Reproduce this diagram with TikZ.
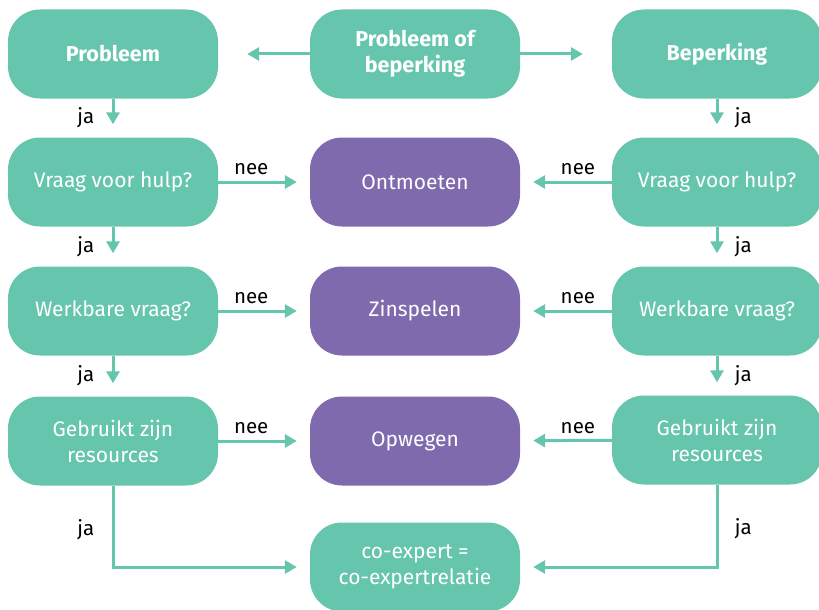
\documentclass[tikz,border=0pt]{standalone}
\usepackage{fontspec}
\setmainfont{Fira Sans}
\usetikzlibrary{arrows.meta}
\definecolor{mint}{HTML}{66C5AD}
\definecolor{paars}{HTML}{7F6AAE}

\begin{document}
\begin{tikzpicture}[x=1pt,y=-1pt,
  box/.style={rectangle,rounded corners=32pt,fill=mint,text=white,minimum width=210pt,
    minimum height=89pt,align=center,font=\fontsize{21}{26}\selectfont},
  paarsbox/.style={box,fill=paars},
  kop/.style={box,font=\fontsize{21.5}{26}\selectfont\bfseries},
  pijl/.style={mint,line width=3pt,-{Triangle[length=12pt,width=13pt]}},
  lbl/.style={font=\fontsize{20.5}{25}\selectfont,text=black}]
\useasboundingbox (0,0) rectangle (819,610);

\node[kop] (probleem) at (113,54) {Probleem};
\node[kop] (pofb) at (415,54) {Probleem of\\beperking};
\node[kop] (beperking) at (717,54) {Beperking};

\node[box] (hulpL) at (113,182) {Vraag voor hulp?};
\node[paarsbox] (ontmoeten) at (415,182) {Ontmoeten};
\node[box] (hulpR) at (717,182) {Vraag voor hulp?};

\node[box] (vraagL) at (113,311) {Werkbare vraag?};
\node[paarsbox] (zinspelen) at (415,311) {Zinspelen};
\node[box] (vraagR) at (717,311) {Werkbare vraag?};

\node[box] (resL) at (113,441) {Gebruikt zijn\\resources};
\node[paarsbox] (opwegen) at (415,441) {Opwegen};
\node[box] (resR) at (717,440) {Gebruikt zijn\\resources};

\node[box] (coexpert) at (415,567) {co-expert =\\co-expertrelatie};

% splitsing bovenaan
\draw[pijl,shorten >=29pt] (pofb) -- (probleem);
\draw[pijl,shorten >=29pt] (pofb) -- (beperking);

% linker kolom
\draw[pijl,shorten >=13pt] (probleem) -- node[lbl,left=14pt]{ja} (hulpL);
\draw[pijl,shorten >=13pt] (hulpL) -- node[lbl,left=14pt]{ja} (vraagL);
\draw[pijl,shorten >=13pt] (vraagL) -- node[lbl,left=14pt]{ja} (resL);
\draw[pijl,shorten >=13pt] (hulpL) -- node[lbl,above=2pt,pos=0.36]{nee} (ontmoeten);
\draw[pijl,shorten >=13pt] (vraagL) -- node[lbl,above=2pt,pos=0.36]{nee} (zinspelen);
\draw[pijl,shorten >=13pt] (resL) -- node[lbl,above=2pt,pos=0.36]{nee} (opwegen);
\draw[pijl,shorten >=13pt] (resL) |- node[lbl,left=14pt,pos=0.27]{ja} (coexpert);

% rechter kolom
\draw[pijl,shorten >=13pt] (beperking) -- node[lbl,right=13pt]{ja} (hulpR);
\draw[pijl,shorten >=13pt] (hulpR) -- node[lbl,right=13pt]{ja} (vraagR);
\draw[pijl,shorten >=13pt] (vraagR) -- node[lbl,right=13pt]{ja} (resR);
\draw[pijl,shorten >=13pt] (hulpR) -- node[lbl,above=2pt,pos=0.37]{nee} (ontmoeten);
\draw[pijl,shorten >=13pt] (vraagR) -- node[lbl,above=2pt,pos=0.37]{nee} (zinspelen);
\draw[pijl,shorten >=13pt] (resR) -- node[lbl,above=2pt,pos=0.37]{nee} (opwegen);
\draw[pijl,shorten >=13pt] (resR) |- node[lbl,right=13pt,pos=0.27]{ja} (coexpert);
\end{tikzpicture}
\end{document}
